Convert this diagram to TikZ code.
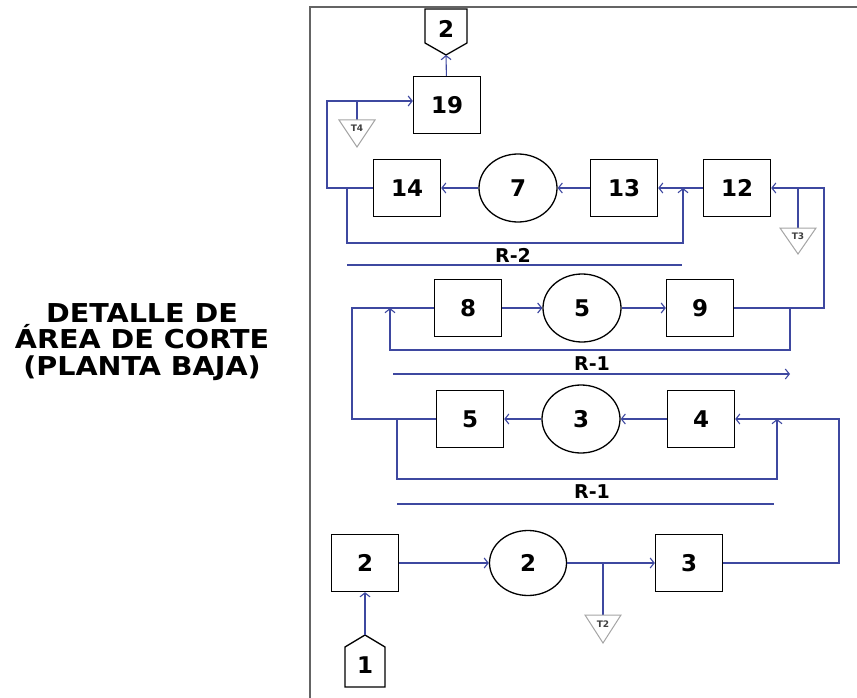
\documentclass[tikz,border=0pt]{standalone}
\usepackage{fontspec}
\newfontfamily\dejavu{DejaVu Sans}
\newfontfamily\titlefont[FakeStretch=1.1]{DejaVu Sans}
\usetikzlibrary{arrows.meta,shapes.geometric}
\definecolor{flowblue}{RGB}{62,72,160}
\definecolor{framegray}{RGB}{100,100,100}
\definecolor{tankgray}{RGB}{165,165,165}

\begin{document}
\begin{tikzpicture}[x=1pt,y=1pt,yscale=-1,
  box/.style={draw=black,line width=1.3pt,minimum width=67pt,minimum height=57pt,inner sep=0pt,font=\dejavu\bfseries\fontsize{23}{23}\selectfont},
  oper/.style={draw=black,line width=1.3pt,ellipse,minimum width=78pt,minimum height=68pt,inner sep=0pt,font=\dejavu\bfseries\fontsize{23}{23}\selectfont},
  flow/.style={draw=flowblue,line width=1.1pt},
  tip/.style={flow,-{Straight Barb[length=4pt,width=10pt,line width=1.1pt]}},
  tank/.style={draw=tankgray,line width=1pt,fill=white},
  tlabel/.style={inner sep=0pt,text=black!75,font=\dejavu\bfseries\fontsize{9}{9}\selectfont},
  rlabel/.style={inner sep=0pt,font=\dejavu\bfseries\fontsize{19}{19}\selectfont},
  ref/.style={inner sep=0pt,font=\dejavu\bfseries\fontsize{23}{23}\selectfont}]
\useasboundingbox (0,0) rectangle (857,698);

%Frame
\draw [draw=framegray,line width=2.4pt] (310,698) -- (310,7) -- (857,7) ;

% Title
\node (title) [align=center,inner sep=0pt,font=\titlefont\bfseries\fontsize{26}{26.5}\selectfont] at (142,342) {DETALLE DE\\ÁREA DE CORTE\\(PLANTA BAJA)};

% Boxes and circles
\node (b19) [box] at (447,105) {19};
\node (b14) [box] at (407,188) {14};
\node (c7) [oper] at (518,188) {7};
\node (b13) [box] at (624,188) {13};
\node (b12) [box] at (737,188) {12};
\node (b8) [box] at (468,308) {8};
\node (c5) [oper] at (582,308) {5};
\node (b9) [box] at (700,308) {9};
\node (b5) [box] at (470,419) {5};
\node (c3) [oper] at (581,419) {3};
\node (b4) [box] at (701,419) {4};
\node (b2) [box] at (365,563) {2};
\node (c2) [oper,minimum width=77pt,minimum height=65pt] at (528,563) {2};
\node (b3) [box] at (689,563) {3};

% Off-page connectors
\draw [line width=1.3pt] (425,9) -- (467,9) -- (467,43) -- (446,55) -- (425,43) -- cycle ;
\node (r2) [ref] at (446,29) {2};
\coordinate (r2tip) at (446,55);
\draw [line width=1.3pt] (345,687) -- (345,647) -- (365,635) -- (385,647) -- (385,687) -- cycle ;
\node (r1) [ref] at (365,665) {1};
\coordinate (r1tip) at (365,635);

% Bottom line
\draw [tip] (r1tip) -- (b2.south) ;
\draw [tip] (b2) -- (c2) ;
\draw [tip] (c2) -- (b3) ;
\coordinate (t2top) at (603,563);
\draw [flow] (t2top) -- (603,615) ;
\draw [tank] (585,615) -- (621,615) -- (603,643) -- cycle ;
\node (t2) [tlabel] at (603,624) {T2};
\draw [tip] (b3.east) -- (839,563) -- (839,419) -- (b4.east) ;

% Lower row
\draw [tip] (b4) -- (c3) ;
\draw [tip] (c3) -- (b5) ;
\draw [flow] (b5.west) -- (352,419) -- (352,308) -- (b8.west) ;
\coordinate (rec1a) at (397,419);
\draw [tip] (rec1a) -- (397,479) -- (777,479) -- (777,419) ;
\node (rlow) [rlabel] at (592,492) {R-1};
\draw [flow] (397,504) -- (774,504) ;

% Middle row
\draw [tip] (b8) -- (c5) ;
\draw [tip] (c5) -- (b9) ;
\draw [tip] (b9.east) -- (824,308) -- (824,188) -- (b12.east) ;
\coordinate (rec1b) at (790,308);
\draw [tip] (rec1b) -- (790,350) -- (390,350) -- (390,308) ;
\node (rmid) [rlabel] at (592,364) {R-1};
\draw [tip] (393,374) -- (790,374) ;

% Upper row
\coordinate (t3top) at (798,188);
\draw [flow] (t3top) -- (798,228) ;
\draw [tank] (780,228) -- (816,228) -- (798,254) -- cycle ;
\node (t3) [tlabel] at (798,236) {T3};
\draw [tip] (b12) -- (b13) ;
\draw [tip] (b13) -- (c7) ;
\draw [tip] (c7) -- (b14) ;
\draw [tip] (b14.west) -- (327,188) -- (327,101) -- (b19.west |- 0,101) ;
\coordinate (t4top) at (357,101);
\draw [flow] (t4top) -- (357,120) ;
\draw [tank] (339,120) -- (375,120) -- (357,147) -- cycle ;
\node (t4) [tlabel] at (357,128) {T4};
\coordinate (rec2) at (347,188);
\draw [tip] (rec2) -- (347,243) -- (683,243) -- (683,188) ;
\node (rtop) [rlabel] at (513,255) {R-2};
\draw [flow] (347,265) -- (682,265) ;
\draw [tip] (b19) -- (r2tip) ;

\end{tikzpicture}
\end{document}
